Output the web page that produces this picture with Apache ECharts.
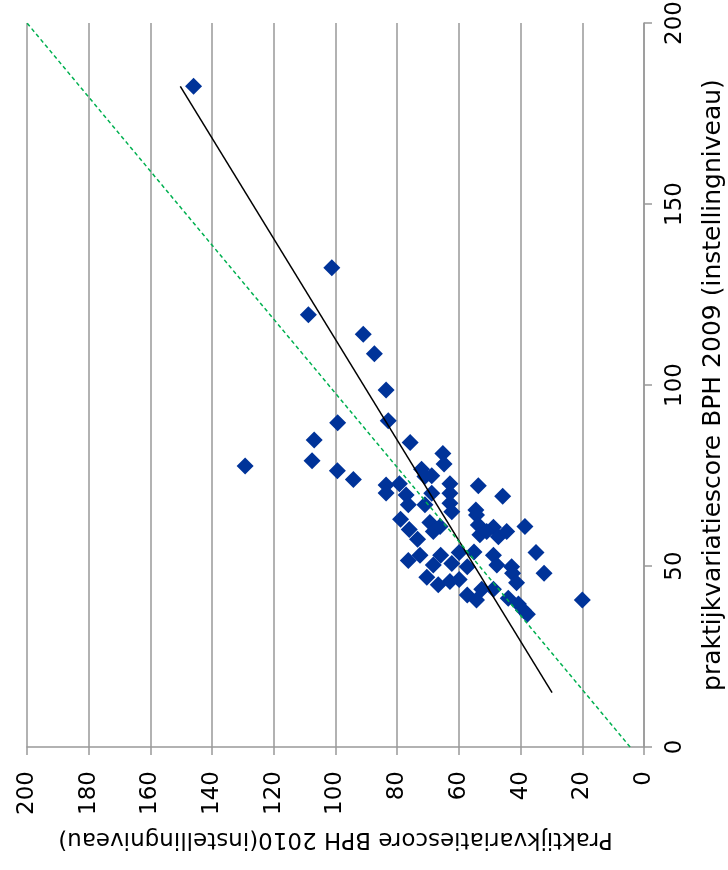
<!DOCTYPE html>
<html>
<head>
<meta charset="utf-8">
<script src="https://cdn.jsdelivr.net/npm/echarts@6/dist/echarts.min.js"></script>
<style>
  html, body { margin: 0; padding: 0; background: #fff; }
  #chart { width: 728px; height: 870px; }
</style>
</head>
<body>
<div id="chart"></div>
<script>
// praktijkvariatiescore per instelling: 2010 vs 2009
const score2010 = [146.0, 101.2, 108.8, 91.0, 87.4, 83.6, 82.9, 99.3, 106.9, 107.6,
    129.3, 99.4, 94.2, 83.6, 83.6, 75.8, 65.2, 64.8, 72.1, 68.8,
    71.0, 79.3, 62.9, 53.7, 45.8, 77.1, 62.9, 68.8, 76.4, 71.0,
    62.9, 54.5, 62.3, 78.9, 76.1, 73.4, 69.4, 68.3, 66.1, 54.3,
    53.7, 53.2, 48.8, 47.2, 44.5, 51.0, 38.6, 35.0, 32.4, 20.0,
    72.6, 76.4, 65.9, 68.3, 70.4, 66.7, 62.9, 59.9, 62.3, 59.9,
    57.3, 55.1, 57.3, 54.3, 52.6, 48.8, 48.8, 47.7, 42.9, 42.6,
    41.3, 44.0, 40.7, 39.1, 37.8];
const score2009 = [182.5, 132.4, 119.4, 114.0, 108.6, 98.6, 90.1, 89.6, 84.8, 79.1,
    77.6, 76.3, 73.9, 72.4, 70.2, 84.1, 81.1, 78.2, 76.7, 74.9,
    74.7, 72.7, 72.7, 72.2, 69.3, 69.6, 70.1, 70.1, 66.9, 66.9,
    67.3, 65.5, 65.0, 62.9, 60.1, 57.4, 62.0, 59.5, 60.9, 64.1,
    61.3, 58.6, 60.7, 58.1, 59.5, 59.5, 60.9, 53.7, 48.0, 40.6,
    53.0, 51.5, 53.0, 50.3, 46.9, 44.8, 45.7, 46.3, 50.7, 53.7,
    49.8, 53.9, 42.0, 40.6, 43.6, 43.6, 53.0, 50.3, 49.8, 48.0,
    45.4, 41.1, 39.5, 37.8, 36.7];

// lineaire trendlijn (zwart) en referentielijn (groen gestippeld)
const trend2009 = [15, 182.5];
const trend2010 = [29.8, 150.3];
const ref2009 = [0, 200];
const ref2010 = [4.5, 200];

const name2010 = 'Praktijkvariatiescore BPH 2010(instellingniveau)';
const name2009 = 'praktijkvariatiescore BPH 2009 (instellingniveau)';

const font = 'DejaVu Sans, Verdana, sans-serif';
const gridGrey = '#999999';

const chart = echarts.init(document.getElementById('chart'));

const points = score2010.map((v, i) => [v, score2009[i]]);
const trend = trend2010.map((v, i) => [v, trend2009[i]]);
const ref = ref2010.map((v, i) => [v, ref2009[i]]);

const option = {
    animation: false,
    backgroundColor: '#fff',
    grid: { left: 27, right: 84, top: 23, bottom: 123, containLabel: false, outerBoundsMode: 'none' },
    xAxis: {
        type: 'value',
        min: 0, max: 200, interval: 20,
        inverse: true,
        position: 'bottom',
        name: name2010,
        nameLocation: 'middle',
        nameRotate: 180,
        nameGap: 80,
        nameTextStyle: { fontFamily: font, fontSize: 23, color: '#000' },
        axisLine: { show: true, lineStyle: { color: gridGrey, width: 1.5 } },
        axisTick: { show: true, length: 8, lineStyle: { color: gridGrey, width: 1.5 } },
        axisLabel: { rotate: 90, margin: 24, fontFamily: font, fontSize: 23, color: '#000' },
        splitLine: { show: true, lineStyle: { color: gridGrey, width: 1.5 } }
    },
    yAxis: {
        type: 'value',
        min: 0, max: 200, interval: 50,
        position: 'right',
        name: name2009,
        nameLocation: 'middle',
        nameRotate: 90,
        nameGap: 57,
        nameTextStyle: { fontFamily: font, fontSize: 25, color: '#000' },
        axisLine: { show: true, lineStyle: { color: gridGrey, width: 1.5 } },
        axisTick: { show: true, length: 8, lineStyle: { color: gridGrey, width: 1.5 } },
        axisLabel: { rotate: 90, margin: 20, fontFamily: font, fontSize: 23, color: '#000' },
        splitLine: { show: false }
    },
    series: [
        {
            type: 'scatter',
            data: points,
            symbol: 'diamond',
            symbolSize: 17,
            itemStyle: { color: '#003399', opacity: 1 },
            z: 2
        },
        {
            type: 'line',
            data: trend,
            showSymbol: false,
            lineStyle: { color: '#000', width: 1.5 },
            z: 3
        },
        {
            type: 'line',
            data: ref,
            showSymbol: false,
            lineStyle: { color: '#00b050', width: 1.5, type: [4, 3] },
            z: 3
        }
    ]
};

chart.setOption(option);
</script>
</body>
</html>
